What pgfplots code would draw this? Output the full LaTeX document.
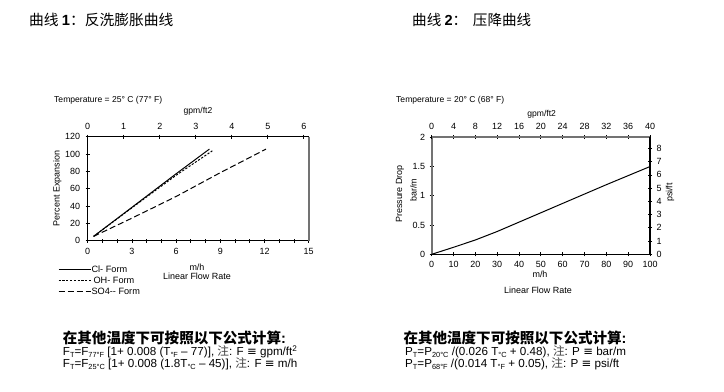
\documentclass[border=0pt]{standalone}
\usepackage{fontspec}
\setmainfont{Liberation Sans}
\newfontfamily\cjk{Noto Sans CJK SC}
\newfontfamily\dejavu{DejaVu Sans}
\usepackage{pgfplots}
\pgfplotsset{compat=1.18}
\newcommand\fs[1]{\fontsize{#1}{#1}\selectfont}
\newcommand\sub[1]{\raisebox{-0.35ex}{\fs{7.4}#1}}
\definecolor{axgray}{gray}{0.45}
\pgfplotsset{
  common/.style={
    scale only axis, anchor=south west,
    tick align=center, major tick length=4bp, minor tick length=4bp,
    every tick/.style={black, line width=0.8bp},
    axis line style={line width=1.1bp, -},
    tick label style={font=\fs{9}},
    /pgf/number format/assume math mode=true,
  }
}
\begin{document}
\begin{tikzpicture}[x=1bp,y=1bp]
\useasboundingbox (0,0) rectangle (724,391);
% ---------- left chart ----------
\begin{axis}[common, at={(87.7bp,150.3bp)}, width=221bp, height=104bp,
  xmin=0, xmax=15, ymin=0, ymax=120,
  axis x line*=bottom, axis y line*=left,
  xtick={0,3,...,15}, minor xtick={1,2,4,5,7,8,10,11,13,14},
  ytick={0,20,...,120},
  xticklabel style={yshift=-2bp}, yticklabel style={xshift=-2bp},
  legend style={at={(-0.135,-0.235)}, anchor=north west, draw=none, fill=none,
    font=\fs{9.2}, row sep=2bp, inner sep=0pt, nodes={inner sep=0.5bp}},
  legend cell align=left,
  legend image code/.code={\draw[#1] (0bp,0bp) -- (32bp,0bp);},
]
\addplot[black, line width=1bp] coordinates {(0.4,5) (2,25.6) (4,51.4) (6,77.2) (8.26,105.7)};
\addlegendentry{Cl- Form}
\addplot[black, line width=1bp, dash pattern=on 2.2bp off 1.6bp] coordinates {(0.4,5) (2,25.3) (4,50.5) (6,75.5) (8.46,103.7)};
\addlegendentry{\hspace{2bp}OH- Form}
\addplot[black, line width=1bp, dash pattern=on 6bp off 3bp] coordinates {(0.4,5) (3,26) (6,51) (9,78.5) (12.1,105.7)};
\addlegendentry{SO4-{}- Form}
\end{axis}
\begin{axis}[common, at={(87.7bp,150.3bp)}, width=221bp, height=104bp,
  xmin=0, xmax=6.135, ymin=0, ymax=1,
  axis x line*=top, axis y line*=right, ytick=\empty,
  y axis line style={axgray, line width=1.6bp},
  xtick={0,...,6}, xticklabel style={yshift=2bp},
]
\end{axis}
% ---------- right chart ----------
\begin{axis}[common, at={(431.7bp,136.7bp)}, width=218.3bp, height=117bp,
  xmin=0, xmax=100, ymin=0, ymax=2,
  axis x line*=bottom, axis y line*=left,
  y axis line style={axgray, line width=1.8bp},
  xtick={0,10,...,100}, ytick={0,0.5,1,1.5,2},
  yticklabels={0,0.5,1,1.5,2},
  xticklabel style={yshift=-1bp}, yticklabel style={xshift=-1bp},
]
\addplot[black, line width=1bp] coordinates {(0,0) (10,0.12) (20,0.245) (30,0.39) (40,0.55) (50,0.71) (60,0.87) (70,1.03) (80,1.19) (90,1.345) (100,1.5)};
\end{axis}
\begin{axis}[common, at={(431.7bp,136.7bp)}, width=218.3bp, height=117bp,
  xmin=0, xmax=40, ymin=0, ymax=8.842,
  axis x line*=top, axis y line*=right,
  x axis line style={axgray, line width=1.8bp},
  xtick={0,4,...,40}, ytick={0,...,8},
  xticklabel style={yshift=2bp}, yticklabel style={xshift=1bp},
]
\end{axis}
% ---------- titles ----------
\node[anchor=west, inner sep=0] at (29,371) {\fs{14.8}\cjk 曲线 {\rmfamily\bfseries 1}：反洗膨胀曲线};
\node[anchor=west, inner sep=0] at (412,371) {\fs{14.6}\cjk 曲线 {\rmfamily\bfseries 2}：\hspace{0.4em}压降曲线};
% ---------- left labels ----------
\node[anchor=west, inner sep=0] at (54,291) {\fs{8.6}Temperature = 25° C (77° F)};
\node[inner sep=0] at (198,280) {\fs{8.6}gpm/ft2};
\node[rotate=90, inner sep=0] at (57.3,202.5) {\fs{9}Percent Expansion};
\node[inner sep=0] at (197,124) {\fs{9}m/h};
\node[inner sep=0] at (197,114.5) {\fs{9}Linear Flow Rate};
% ---------- right labels ----------
\node[anchor=west, inner sep=0] at (396,290.3) {\fs{8.6}Temperature = 20° C (68° F)};
\node[inner sep=0] at (541.7,276.7) {\fs{8.6}gpm/ft2};
\node[rotate=90, inner sep=0] at (400,197) {\fs{9}Pressure Drop};
\node[rotate=90, inner sep=0] at (413.3,201) {\fs{9}bar/m};
\node[rotate=90, inner sep=0] at (670,198.5) {\fs{9}psi/ft};
\node[inner sep=0] at (540,117) {\fs{9}m/h};
\node[inner sep=0] at (538,100.3) {\fs{9}Linear Flow Rate};
% ---------- formulas ----------
\node[anchor=west, inner sep=0] at (62.7,53.5) {\fs{14.6}\cjk\bfseries 在其他温度下可按照以下公式计算{\rmfamily\bfseries :}};
\node[anchor=west, inner sep=0] at (62.7,39) {\fs{11.7}F\sub{T}=F\sub{77°F} [1+ 0.008 (T\sub{°F} – 77)], {\cjk\color{darkgray}注}: F {\dejavu ≡} gpm/ft\textsuperscript{2}};
\node[anchor=west, inner sep=0] at (62.7,27) {\fs{11.7}F\sub{T}=F\sub{25°C} [1+ 0.008 (1.8T\sub{°C} – 45)], {\cjk\color{darkgray}注}: F {\dejavu ≡} m/h};
\node[anchor=west, inner sep=0] at (403.3,53.5) {\fs{14.6}\cjk\bfseries 在其他温度下可按照以下公式计算{\rmfamily\bfseries :}};
\node[anchor=west, inner sep=0] at (405,39) {\fs{11.7}P\sub{T}=P\sub{20°C} /(0.026 T\sub{°C} + 0.48), {\cjk\color{darkgray}注}: P {\dejavu ≡} bar/m};
\node[anchor=west, inner sep=0] at (405,27) {\fs{11.7}P\sub{T}=P\sub{68°F} /(0.014 T\sub{°F} + 0.05), {\cjk\color{darkgray}注}: P {\dejavu ≡} psi/ft};
\end{tikzpicture}
\end{document}
